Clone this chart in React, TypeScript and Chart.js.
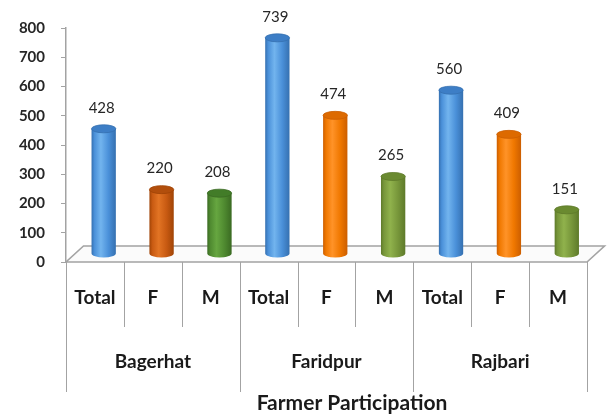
import React, { useEffect, useRef } from "react";
import { Chart, registerables } from "chart.js";

Chart.register(...registerables);

// Farmer participation by district and group
const districts = ["Bagerhat", "Faridpur", "Rajbari"];
const groups = ["Total", "F", "M"];
const participation = [428, 220, 208, 739, 474, 265, 560, 409, 151];
const yMin = 0;
const yMax = 800;
const yStep = 100;
const axisTitle = "Farmer Participation";

// One flat category per bar: district x group
const categories = districts.flatMap((d) => groups.map((g) => `${d} ${g}`));

// Cylinder shading per bar: [edge, body, highlight, cap]
const shades: string[][] = [
  ["#3570b0", "#4a90d9", "#72b4ee", "#3d7ec6"],
  ["#a04406", "#c85a12", "#e27424", "#b24e0c"],
  ["#3a6a22", "#4f8a30", "#66a640", "#427c28"],
  ["#3570b0", "#4a90d9", "#72b4ee", "#3d7ec6"],
  ["#cc5e00", "#f07800", "#ff9328", "#dd6a00"],
  ["#5e7a2a", "#77963a", "#90b24c", "#6a8a30"],
  ["#3570b0", "#4a90d9", "#72b4ee", "#3d7ec6"],
  ["#cc5e00", "#f07800", "#ff9328", "#dd6a00"],
  ["#5e7a2a", "#77963a", "#90b24c", "#6a8a30"],
];

const FONT = "Lato, 'Open Sans', sans-serif";
const LINE = "#a3a3a3";
const DEPTH_X = 17.5;
const DEPTH_Y = -16;

const floorAndAxisPlugin = {
  id: "floorAndAxis",
  beforeDatasetsDraw(chart: any) {
    const { ctx, chartArea } = chart;
    const { left, right, bottom } = chartArea;
    ctx.save();
    // floor slab
    ctx.beginPath();
    ctx.moveTo(left, bottom);
    ctx.lineTo(right, bottom);
    ctx.lineTo(right + DEPTH_X, bottom + DEPTH_Y);
    ctx.lineTo(left + DEPTH_X, bottom + DEPTH_Y);
    ctx.closePath();
    ctx.fillStyle = "#fbfbfb";
    ctx.fill();
    ctx.strokeStyle = LINE;
    ctx.lineWidth = 1.6;
    ctx.stroke();
    ctx.restore();
  },
  afterDraw(chart: any) {
    const { ctx, chartArea, scales } = chart;
    const x = scales.x;
    const { bottom } = chartArea;
    const n = categories.length;
    const half = (x.getPixelForValue(1) - x.getPixelForValue(0)) / 2;
    ctx.save();
    // category dividers
    ctx.strokeStyle = LINE;
    ctx.lineWidth = 1;
    for (let i = 0; i <= n; i++) {
      const px = Math.round(i < n ? x.getPixelForValue(i) - half : x.getPixelForValue(n - 1) + half) + 0.5;
      const isGroup = i % groups.length === 0;
      ctx.beginPath();
      ctx.moveTo(px, bottom);
      ctx.lineTo(px, isGroup ? 392 : 327);
      ctx.stroke();
    }
    // group labels
    ctx.fillStyle = "#1a1a1a";
    ctx.textAlign = "center";
    ctx.textBaseline = "middle";
    ctx.font = `bold 19px ${FONT}`;
    for (let i = 0; i < n; i++) {
      ctx.fillText(groups[i % groups.length], x.getPixelForValue(i), 298);
    }
    districts.forEach((d, k) => {
      const cx = x.getPixelForValue(k * groups.length + 1);
      ctx.fillText(d, cx, 362);
    });
    // axis title
    ctx.font = `bold 21px ${FONT}`;
    ctx.fillText(axisTitle, 352, 403);
    ctx.restore();
  },
  afterDatasetsDraw(chart: any) {
    const { ctx } = chart;
    const meta = chart.getDatasetMeta(0);
    ctx.save();
    meta.data.forEach((bar: any, i: number) => {
      const [edge, body, hi, cap] = shades[i];
      const cx = bar.x + DEPTH_X / 2;
      const topY = bar.y + DEPTH_Y / 2;
      const baseY = bar.base + DEPTH_Y / 2;
      const w = bar.width;
      const rx = w / 2;
      const ry = 4;
      const l = cx - rx;
      const grad = ctx.createLinearGradient(l, 0, l + w, 0);
      grad.addColorStop(0, edge);
      grad.addColorStop(0.12, body);
      grad.addColorStop(0.38, hi);
      grad.addColorStop(0.7, body);
      grad.addColorStop(1, edge);
      // body with rounded bottom
      ctx.beginPath();
      ctx.moveTo(l, topY);
      ctx.lineTo(l, baseY);
      ctx.ellipse(cx, baseY, rx, ry, 0, Math.PI, 0, true);
      ctx.lineTo(l + w, topY);
      ctx.closePath();
      ctx.fillStyle = grad;
      ctx.fill();
      // top cap
      ctx.beginPath();
      ctx.ellipse(cx, topY, rx, ry, 0, 0, Math.PI * 2);
      ctx.fillStyle = cap;
      ctx.fill();
      ctx.strokeStyle = edge;
      ctx.lineWidth = 0.8;
      ctx.stroke();
      // value label
      ctx.fillStyle = "#262626";
      ctx.font = `15px ${FONT}`;
      ctx.textAlign = "center";
      ctx.textBaseline = "middle";
      ctx.fillText(String(participation[i]), cx - 2, topY - 21);
    });
    ctx.restore();
  },
};

export default function App() {
  const ref = useRef<HTMLCanvasElement | null>(null);

  useEffect(() => {
    document.body.style.margin = "0";
    if (!ref.current) return;
    const chart = new Chart(ref.current, {
      type: "bar",
      data: {
        labels: categories,
        datasets: [
          {
            data: participation,
            backgroundColor: "rgba(0,0,0,0)",
            borderWidth: 0,
            categoryPercentage: 1,
            barPercentage: 0.42,
          },
        ],
      },
      options: {
        responsive: false,
        animation: false,
        events: [],
        layout: { padding: { left: 8, top: 28, right: 23, bottom: 155 } },
        plugins: {
          legend: { display: false },
          tooltip: { enabled: false },
          title: { display: false },
        },
        scales: {
          x: { display: false },
          y: {
            min: yMin,
            max: yMax,
            afterFit: (s: any) => {
              s.width = 58;
            },
            ticks: {
              stepSize: yStep,
              padding: 16,
              color: "#262626",
              font: { family: FONT, size: 15, weight: "bold" },
            },
            grid: {
              drawOnChartArea: false,
              drawTicks: true,
              tickLength: 5,
              color: LINE,
            },
            border: { display: true, color: LINE, width: 1.5 },
          },
        },
      },
      plugins: [floorAndAxisPlugin],
    });
    return () => chart.destroy();
  }, []);

  return (
    <div style={{ width: 610, height: 417, background: "#fff" }}>
      <canvas ref={ref} width={610} height={417} />
    </div>
  );
}
